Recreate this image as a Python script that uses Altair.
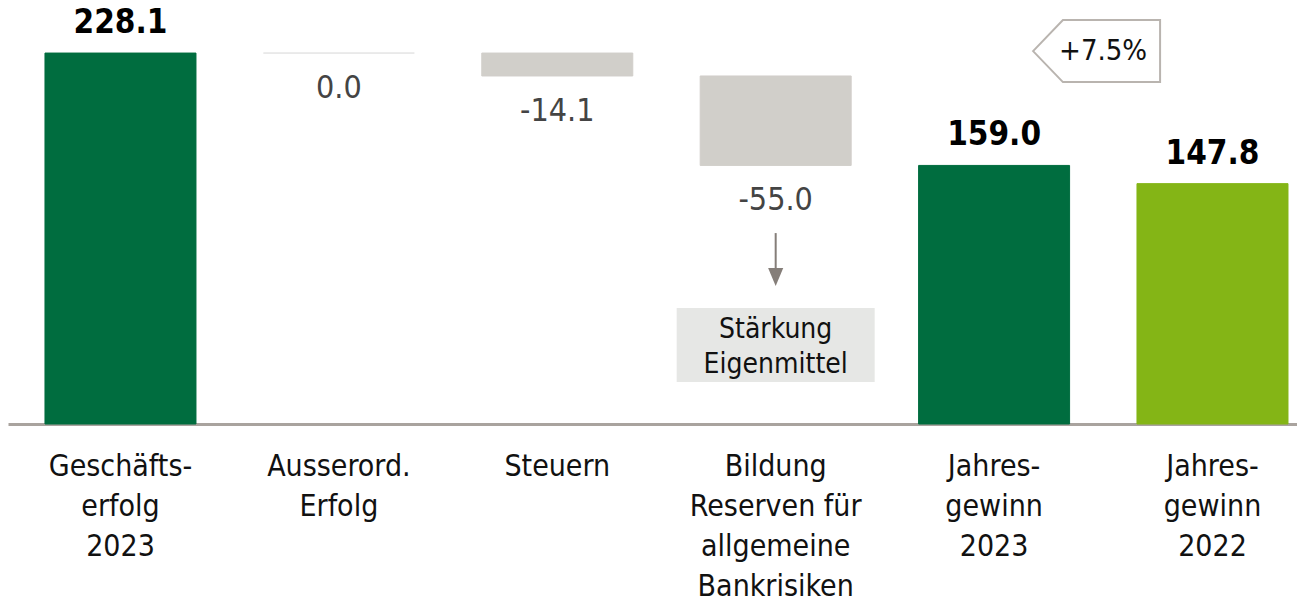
import altair as alt
import pandas as pd

# ---- data ----
categories = ["Geschäfts-|erfolg|2023", "Ausserord.|Erfolg", "Steuern",
              "Bildung|Reserven für|allgemeine|Bankrisiken",
              "Jahres-|gewinn|2023", "Jahres-|gewinn|2022"]
values = [228.1, 0.0, -14.1, -55.0, 159.0, 147.8]
kinds = ["total", "delta", "delta", "delta", "total", "total"]
colors = ["#006d3f", "#e4e4e4", "#d1cfca", "#d1cfca", "#006d3f", "#84b516"]
labels = ["228.1", "0.0", "-14.1", "-55.0", "159.0", "147.8"]

change_label = "+7.5%"
box_lines = ["Stärkung", "Eigenmittel"]

# waterfall start/end
starts, ends = [], []
running = 0.0
for i, (v, k) in enumerate(zip(values, kinds)):
    if k == "total":
        starts.append(0.0)
        ends.append(v)
        if i == 0:
            running = v
    else:
        starts.append(running)
        running = running + v
        ends.append(running)

df = pd.DataFrame({
    "cat": categories, "start": starts, "end": ends, "kind": kinds,
    "color": colors, "label": labels,
})
df["low"] = df[["start", "end"]].min(axis=1)
df["high"] = df[["start", "end"]].max(axis=1)

FONT = "DejaVu Sans Condensed"
YMAX = 255.8
W, H = 1289, 416

xscale = alt.Scale(domain=categories, paddingInner=0.3086, paddingOuter=0.1053,
                   align=0.804, round=False)
yscale = alt.Scale(domain=[0, YMAX], nice=False, zero=False)
X = alt.X("cat:N", scale=xscale, sort=categories)

base = alt.Chart(df)

bars = base.mark_bar(strokeWidth=1).encode(
    x=alt.X("cat:N", scale=xscale, sort=categories,
            axis=alt.Axis(title=None, labelExpr="split(datum.label, '|')",
                          labelFont=FONT, labelFontSize=30, labelColor="#111111",
                          labelLineHeight=40, labelBaseline="alphabetic",
                          labelPadding=51, ticks=False, tickSize=0,
                          domainColor="#a9a39e", domainWidth=3,
                          labelOverlap=False, labelBound=False, labelLimit=400,
                          labelAngle=0)),
    y=alt.Y("start:Q", scale=yscale, axis=None),
    y2="end:Q",
    color=alt.Color("color:N", scale=None),
    stroke=alt.Stroke("color:N", scale=None),
)

total_labels = base.transform_filter("datum.kind == 'total'").mark_text(
    font=FONT, fontWeight="bold", fontSize=33, color="#000000",
    baseline="alphabetic", dy=-20,
).encode(x=X, y=alt.Y("high:Q", scale=yscale), text="label:N")

delta_labels = base.transform_filter("datum.kind == 'delta'").mark_text(
    font=FONT, fontSize=32, color="#444444", baseline="alphabetic", dy=45,
).encode(x=X, y=alt.Y("low:Q", scale=yscale), text="label:N")

# annotation: arrow + box under "Bildung Reserven"
ann_cat = categories[3]
arrow_top, arrow_tip = 117.4, 90.4
box_top, box_bottom, box_text_y = 71.3, 25.8, 52.9
ann = pd.DataFrame({"cat": [ann_cat], "a1": [arrow_top], "a2": [arrow_tip],
                    "b1": [box_top], "b2": [box_bottom], "ty": [box_text_y],
                    "txt": ["\n".join(box_lines)]})
annb = alt.Chart(ann)
arrow_line = annb.mark_rule(color="#857e79", strokeWidth=2).encode(
    x=X, y=alt.Y("a1:Q", scale=yscale), y2="a2:Q")
arrow_head = annb.mark_point(shape="M -0.42 -0.5 L 0.42 -0.5 L 0 0.5 Z", size=1296,
                             filled=True, color="#857e79", opacity=1).encode(
    x=X, y=alt.Y("a2:Q", scale=yscale))
box = annb.mark_bar(width=198, color="#e6e7e5").encode(
    x=X, y=alt.Y("b1:Q", scale=yscale), y2="b2:Q")
box_text = annb.mark_text(font=FONT, fontSize=28, color="#111111",
                          baseline="alphabetic", lineBreak="\n", lineHeight=35).encode(
    x=X, y=alt.Y("ty:Q", scale=yscale), text="txt:N")

# change tag
tag = pd.DataFrame({"cat": [categories[4]], "y": [229.3], "txt": [change_label]})
tagb = alt.Chart(tag)
tag_shape = tagb.mark_point(
    shape="M -1 0 L -0.53 -0.488 L 1 -0.488 L 1 0.488 L -0.53 0.488 Z",
    size=16129, filled=False, stroke="#b9b4af", strokeWidth=2, fill="#ffffff",
    opacity=1, xOffset=102.5,
).encode(x=X, y=alt.Y("y:Q", scale=yscale))
tag_text = tagb.mark_text(font=FONT, fontSize=29, color="#111111",
                          baseline="middle", dx=109).encode(
    x=X, y=alt.Y("y:Q", scale=yscale), text="txt:N")

chart = alt.layer(bars, total_labels, delta_labels, box, box_text, arrow_line,
                  arrow_head, tag_shape, tag_text).properties(
    width=W, height=H,
    padding={"top": 0, "left": 0, "right": 0, "bottom": 172},
    autosize=alt.AutoSizeParams(type="none"),
).configure_view(stroke=None).configure_axis(grid=False)

chart.save("out.html", embed_options={"renderer": "svg", "actions": False})
